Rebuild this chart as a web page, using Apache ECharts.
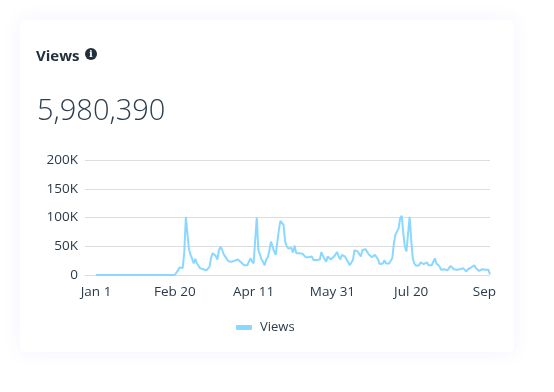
<!DOCTYPE html>
<html>
<head>
<meta charset="utf-8">
<style>
  html, body { margin: 0; padding: 0; background: #fff; width: 554px; height: 392px; overflow: hidden; }
  #card { position: absolute; left: 20px; top: 20px; width: 494px; height: 332px; background: #fff; border-radius: 5px;
    box-shadow: 0 0 18px rgba(120, 120, 255, 0.09); }
  /* chart stops short of the card edge, the last tick label gets cut off like the original */
  #chart { position: absolute; left: 0; top: 0; width: 496px; height: 392px; }
</style>
<script src="https://cdn.jsdelivr.net/npm/echarts@6/dist/echarts.min.js"></script>
</head>
<body>
<div id="card"></div>
<div id="chart"></div>
<script>
const titleText = 'Views';
const totalText = '5,980,390';
const tickDays = [0, 50, 100, 150, 200, 250];
const tickLabels = ['Jan 1', 'Feb 20', 'Apr 11', 'May 31', 'Jul 20', 'Sep 8'];
const yTicks = [0, 50, 100, 150, 200]; // in K

// one value per day from Jan 1, in K
const quietDays = [
  0, 0, 0, 0, 0, 0, 0, 0, 0, 0, 0, 0, 0, 0, 0, 0, 0, 0, 0, 0, 0, 0, 0, 0, 0, 0,
  0, 0, 0, 0, 0, 0, 0, 0, 0, 0, 0, 0, 0, 0, 0, 0, 0, 0, 0, 0, 0, 0, 0, 0, 0
];
const views = quietDays.concat([
  1, 8, 13, 14, 12, 40, 101, 72, 44, 35, 28, 20, 28, 20, 16,
  12, 9, 10, 13, 8, 8, 14, 30, 38, 39, 33, 27, 43, 49, 44, 36, 32, 28, 24, 27, 23, 26, 25, 26, 27,
  24, 22, 20, 17, 18, 17, 20, 29, 24, 20, 61, 100, 43, 36, 27, 23, 17, 27, 31, 43, 58, 61, 41, 35, 35,
  78, 94, 97, 87, 58, 50, 46, 43, 47, 39, 51, 38, 37, 38, 41, 37, 35, 31, 28, 31, 31, 32, 26, 23, 26,
  27, 27, 40, 33, 32, 23, 32, 29, 27, 29, 32, 35, 40, 32, 27, 35, 38, 32, 27, 22, 17, 15,
  26, 43, 42, 41, 38, 32, 43, 45, 45, 42, 36, 33, 31, 29, 35, 36, 27, 19, 21, 20, 26, 20, 17, 20, 23, 29,
  55, 70, 72, 81, 99, 103, 72, 49, 41, 72, 101, 61, 29, 20, 16, 15, 17, 22, 19, 19, 19, 22, 17, 15, 17, 20,
  29, 20, 23, 15, 9, 8, 10, 8, 8, 12, 16, 13, 10, 10, 9, 10, 10, 10, 12, 9, 6, 10, 13, 13, 13, 17, 12, 9, 7,
  9, 10, 12, 9, 8, 9, 1
]);

const chart = echarts.init(document.getElementById('chart'), null, { renderer: 'canvas' });
const fontName = '"Open Sans", sans-serif';
const textColor = '#2b3a48';

chart.setOption({
  animation: false,
  backgroundColor: 'transparent',
  title: [{
    text: titleText,
    left: 31,
    top: 44,
    textStyle: { fontFamily: fontName, fontSize: 15, fontWeight: 700, color: '#22303d' }
  }, {
    text: totalText,
    left: 32,
    top: 92,
    textStyle: { fontFamily: fontName, fontSize: 29, fontWeight: 300, color: '#2f3e4c' }
  }],
  graphic: [{
    type: 'circle',
    shape: { cx: 91, cy: 54, r: 6 },
    style: { fill: '#22303d' }
  }, {
    type: 'text',
    x: 91,
    y: 54,
    style: { text: 'i', fill: '#fff', font: '700 10px "DejaVu Serif"', align: 'center', verticalAlign: 'middle' }
  }],
  legend: {
    data: ['Views'],
    left: 231,
    top: 316,
    icon: 'roundRect',
    itemWidth: 16,
    itemHeight: 5,
    itemGap: 8,
    textStyle: { fontFamily: fontName, fontSize: 13, color: textColor, padding: [0, 0, 0, 3] }
  },
  grid: { left: 85, right: 6, top: 160, height: 115, outerBoundsMode: 'none' },
  xAxis: {
    type: 'value',
    min: -7,
    max: 250,
    axisLine: { show: false },
    axisTick: { show: false },
    splitLine: { show: false },
    axisLabel: {
      customValues: tickDays,
      margin: 10,
      hideOverlap: false,
      fontFamily: fontName,
      fontSize: 13.5,
      color: textColor,
      formatter: function(v) {
        return tickLabels[tickDays.indexOf(v)];
      }
    }
  },
  yAxis: {
    type: 'value',
    min: 0,
    max: 200,
    interval: 50,
    axisLine: { show: false },
    axisTick: { show: false },
    splitLine: { lineStyle: { color: '#dddddd', width: 1 } },
    axisLabel: {
      margin: 7,
      fontFamily: fontName,
      fontSize: 13.5,
      color: textColor,
      formatter: function(v) {
        return yTicks.indexOf(v) > 0 ? v + 'K' : '0';
      }
    }
  },
  series: [{
    name: 'Views',
    type: 'line',
    data: views.map((v, i) => [i, v]),
    showSymbol: false,
    clip: false,
    itemStyle: { color: '#8ad8ff' },
    lineStyle: { color: '#8ad8ff', width: 2 }
  }]
});
</script>
</body>
</html>
